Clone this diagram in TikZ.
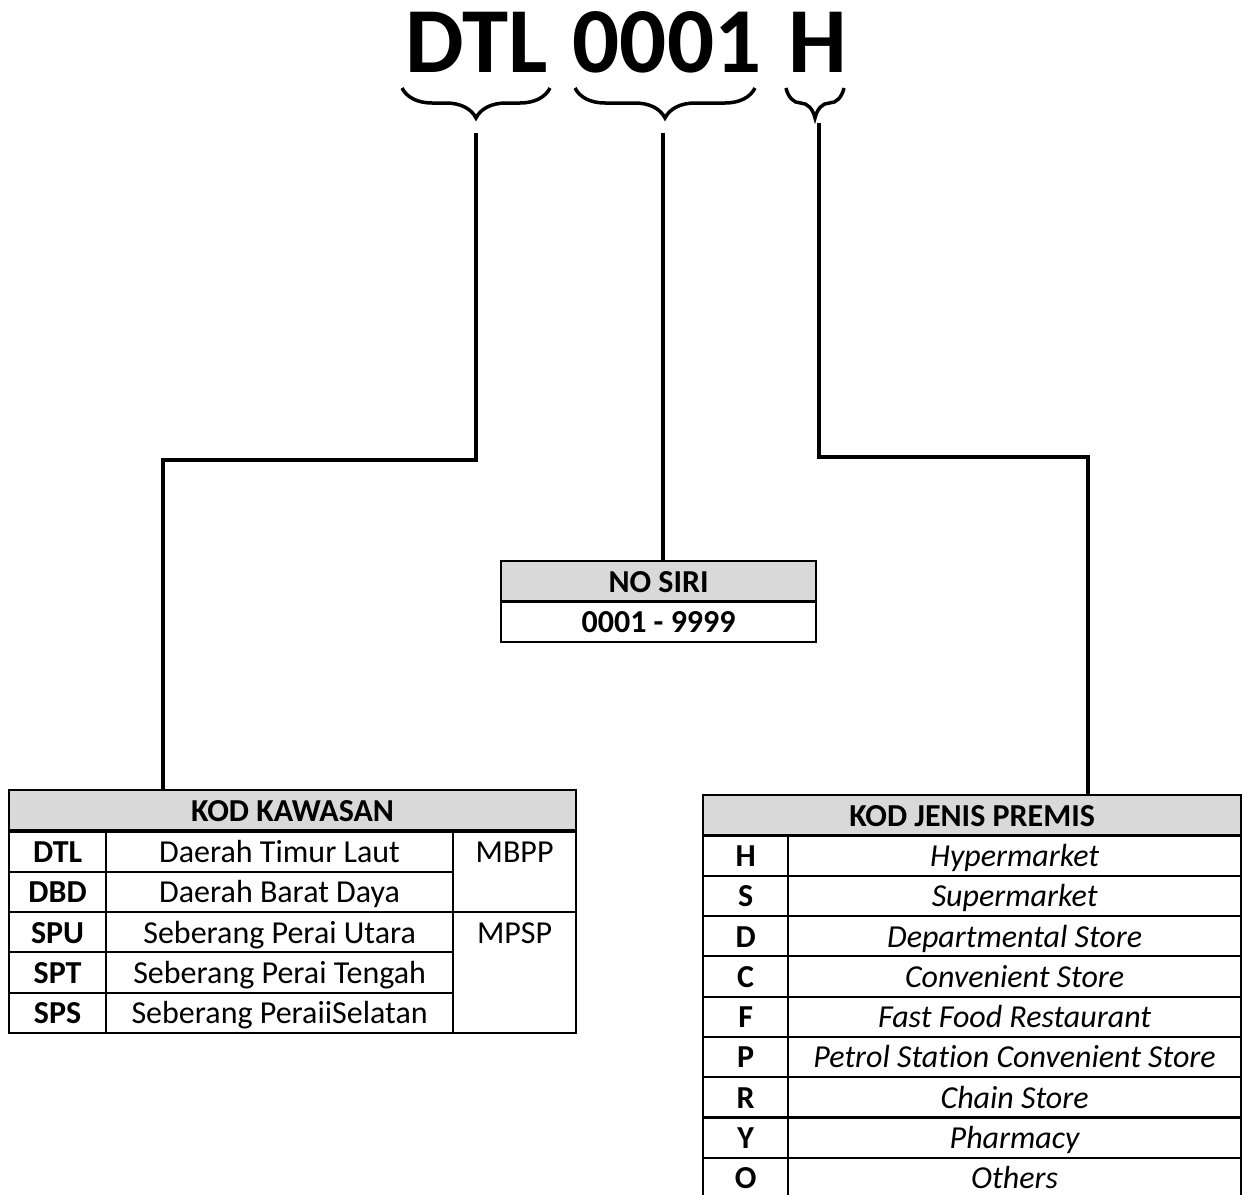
\documentclass[tikz,border=0pt]{standalone}
\usepackage{fontspec}
\setmainfont[Ligatures=NoCommon]{Carlito}
\usetikzlibrary{decorations.pathreplacing}

\tikzset{
  conn/.style={line width=3.8pt},
  brc/.style={decorate,decoration={brace,mirror,amplitude=30pt},line width=3.5pt},
  cell/.style={draw,line width=2.2pt,inner sep=0pt,anchor=north west,text height=31pt,text depth=9.3pt,font=\fontsize{32}{38}\selectfont},
  hdr/.style={cell,fill=black!15,font=\bfseries\fontsize{32}{38}\selectfont},
  kodcell/.style={cell,font=\bfseries\fontsize{32}{38}\selectfont},
  namecell/.style={cell,font=\itshape\fontsize{32}{38}\selectfont},
  ttl/.style={anchor=base,inner sep=0pt,font=\bfseries\fontsize{93}{100}\selectfont}
}

\begin{document}
\begin{tikzpicture}[x=1pt,y=1pt,yscale=-1,xscale=1]
		\useasboundingbox (0,0) rectangle (1242,1194);
		
		% Text Node
		\node[ttl] (dtl) at (477,72) {DTL};
		% Text Node
		\node[ttl] (num) at (667,72) {0001};
		% Text Node
		\node[ttl] (hh) at (818,72) {H};
		
		%Braces
		\draw[brc] (402,88) -- (550,88);
		\draw[brc] (575,88) -- (755,88);
		\draw[brc] (786,88) -- (844,88);
		
		% NO SIRI
		\node[hdr,minimum width=315pt] (sirihdr) at (500,560) {NO SIRI};
		\node[kodcell,minimum width=315pt] (siri) at (500,600.3) {0001 - 9999};
		
		% KOD KAWASAN
		\node[hdr,minimum width=567pt] (kawhdr) at (8,789) {KOD KAWASAN};
		\foreach \k/\n [count=\i from 0] in {DTL/Daerah Timur Laut,DBD/Daerah Barat Daya,SPU/Seberang Perai Utara,SPT/Seberang Perai Tengah,SPS/Seberang PeraiiSelatan}{
			\node[kodcell,minimum width=97pt] (kawk\i) at (8,830.3+40.3*\i) {\k};
			\node[cell,minimum width=347pt] (kawn\i) at (105,830.3+40.3*\i) {\n};
		}
		\node[cell,minimum width=123pt,text depth=49.6pt] (mbpp) at (452,830.3) {MBPP};
		\node[cell,minimum width=123pt,text depth=89.9pt] (mpsp) at (452,910.9) {MPSP};
		
		% KOD JENIS PREMIS
		\node[hdr,minimum width=538pt] (jenhdr) at (702,794) {KOD JENIS PREMIS};
		\foreach \k/\n [count=\i from 0] in {H/Hypermarket,S/Supermarket,D/Departmental Store,C/Convenient Store,F/Fast Food Restaurant,P/Petrol Station Convenient Store,R/Chain Store,Y/Pharmacy,O/Others}{
			\node[kodcell,minimum width=85pt] (jenk\i) at (702,834.3+40.3*\i) {\k};
			\node[namecell,minimum width=453pt] (jenn\i) at (787,834.3+40.3*\i) {\n};
		}
		
		%Straight Lines
		\coordinate (dtltip) at (476,133);
		\coordinate (numtip) at (663,133);
		\coordinate (htip) at (819,123);
		\draw[conn] (dtltip) -- (dtltip |- 0,460) -| ([xshift=155pt]kawhdr.north west);
		\draw[conn] (numtip) -- (numtip |- sirihdr.north);
		\draw[conn] (htip) -- (htip |- 0,457) -| ([xshift=386pt]jenhdr.north west);
		
\end{tikzpicture}
\end{document}
